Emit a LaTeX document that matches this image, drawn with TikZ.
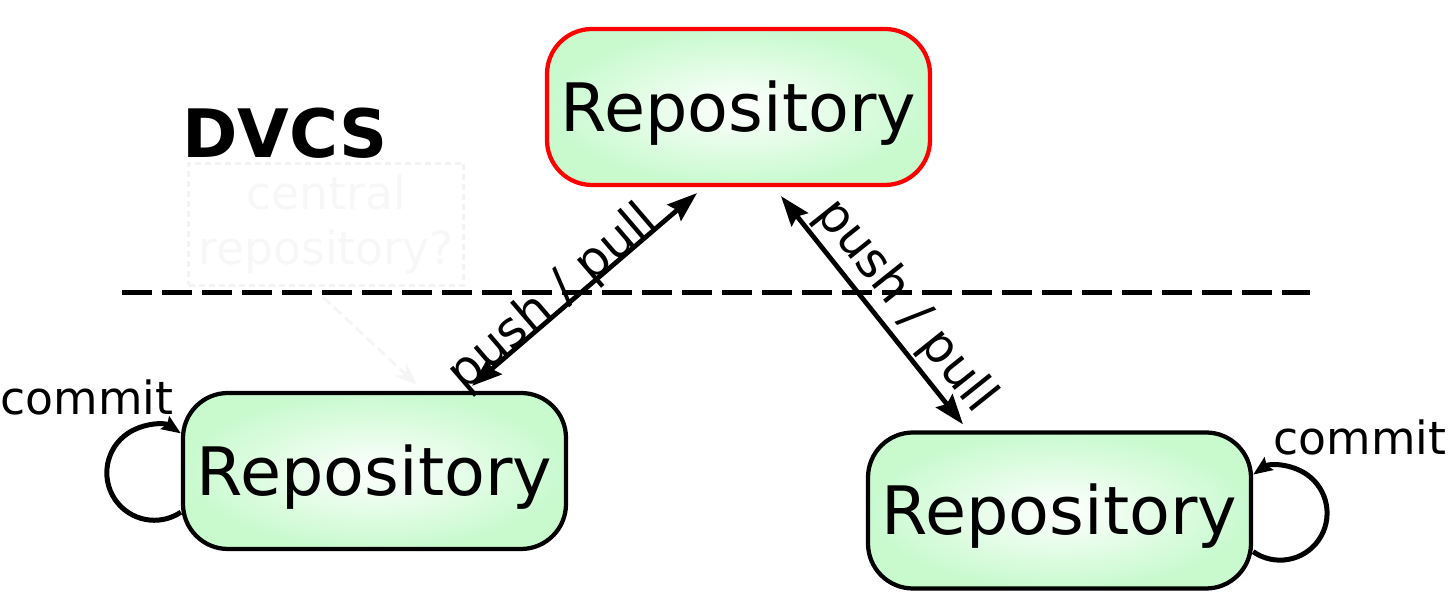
\documentclass[tikz,border=0pt]{standalone}
\usepackage{fontspec}
\setmainfont{DejaVu Sans}
\usepackage{xcolor}
\usetikzlibrary{arrows.meta, calc}

\definecolor{repogreen}{RGB}{200,250,206}
\definecolor{ghostgray}{RGB}{243,243,243}

\begin{document}
\begin{tikzpicture}[
    every node/.style={font=\fontsize{26}{31}\selectfont, align=center},
    repo/.style={rectangle, draw=black, line width=0.085cm, rounded corners=0.9cm,
                 inner color=white, outer color=repogreen,
                 minimum width=7.66cm, minimum height=3.12cm,
                 font=\fontsize{38}{46}\selectfont, text height=1.3cm, text depth=0.32cm},
    repo-main/.style={repo, draw=red},
    ghost/.style={rectangle, draw=ghostgray, line width=0.06cm, dash pattern=on 0.12cm off 0.08cm,
                  minimum width=5.5cm, minimum height=2.44cm, text=ghostgray!70},
    arr/.style={{Stealth[length=0.6cm, width=0.42cm, inset=0.08cm]}-{Stealth[length=0.6cm, width=0.42cm, inset=0.08cm]},
                line width=0.095cm},
    selfarr/.style={-{Stealth[length=0.38cm, width=0.3cm, inset=0.05cm]}, line width=0.1cm},
    ghostarr/.style={-{Stealth[length=0.45cm, width=0.35cm]}, draw=ghostgray!80, line width=0.06cm,
                     dash pattern=on 0.2cm off 0.1cm},
    divider/.style={line width=0.1cm, dash pattern=on 0.6cm off 0.2cm},
    lbl/.style={font=\fontsize{28}{34}\selectfont, sloped, inner sep=0.05cm}
]
\useasboundingbox (0,0) rectangle (28.96,12.16);

% --- repositories ---
\node[repo-main] (top) at (14.77,10.02) {Repository};
\node[repo]      (bl)  at ( 7.49, 2.74) {Repository};
\node[repo]      (br)  at (21.19, 1.95) {Repository};

% --- title and faded central box ---
\node[font=\fontsize{38}{46}\selectfont\bfseries] (title) at (5.70,9.50) {DVCS};
\node[ghost] (cen) at (6.52,7.67) {central\\repository?};
\draw[ghostarr] ($(cen.south)+(-0.06,-0.2)$) -- ($(bl.north)+(0.85,0.12)$);

% --- divider ---
\draw[divider] (2.44,6.30) -- (26.2,6.30);

% --- push / pull ---
\draw[arr] ($(bl.north)+(1.95,0.1)$) --
    node[lbl, pos=0.4, above=-0.3cm] {push / pull} ($(top.south)+(-0.83,-0.12)$);
\draw[arr] ($(top.south)+(0.85,-0.18)$) --
    node[lbl, pos=0.56, above] {push / pull} ($(br.north)+(-1.93,0.12)$);

% --- commits ---
\draw[selfarr] (bl.192.2) arc[start angle=-56, end angle=-304, radius=0.95cm];
\node (cl) at (1.74,4.21) {commit};
\draw[selfarr] (br.348.75) arc[start angle=-125, end angle=125, radius=0.94cm];
\node (cr) at (27.2,3.41) {commit};

\end{tikzpicture}
\end{document}
